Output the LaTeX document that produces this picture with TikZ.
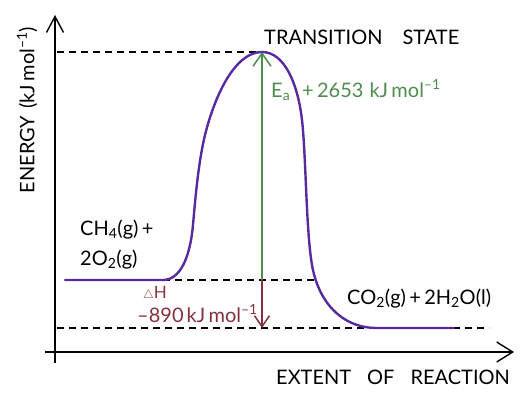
\documentclass[tikz,border=0pt]{standalone}
\usepackage{fontspec}
\setmainfont{Lato}
\usetikzlibrary{arrows.meta}
\definecolor{curvepurple}{RGB}{88,42,160}
\definecolor{eagreen}{RGB}{78,140,78}
\definecolor{dhred}{RGB}{132,50,62}
\newcommand{\lowsub}[1]{\textsubscript{#1}}
\newcommand{\upsup}[1]{\textsuperscript{#1}}
\begin{document}
\begin{tikzpicture}[x=1pt,y=-1pt,
  axis/.style={line width=1.4pt,black},
  dashline/.style={line width=1.5pt,black,dash pattern=on 7pt off 5pt},
  profile/.style={line width=2.4pt,curvepurple,line cap=round,line join=round},
  lbl/.style={inner sep=0pt,font=\fontsize{20}{24}\selectfont},
]
\useasboundingbox (0,0) rectangle (528,399);
% key coordinates
\coordinate (yb) at (55,363);
\coordinate (yt) at (55,15);
\coordinate (xl) at (45,352);
\coordinate (xr) at (514,352);
\coordinate (tsl) at (57,52);
\coordinate (ts) at (262,52);
\coordinate (rs) at (65,280);
\coordinate (re) at (163,280);
\coordinate (rd) at (316,280);
\coordinate (rm) at (262,280);
\coordinate (pl) at (57,328);
\coordinate (pr) at (489,328);
\coordinate (pm) at (262,328);
\coordinate (pe) at (454,328);
% axes
\draw[axis,-{Straight Barb[length=16pt,width=17pt,line width=1.4pt]}] (yb) -- (yt);
\draw[axis,-{Straight Barb[length=16pt,width=20pt,line width=1.4pt]}] (xl) -- (xr);
% dashed levels
\draw[dashline] (tsl) -- (ts);
\draw[dashline] (re) -- (rd);
\draw[dashline] (pl) -- (pr);
% profile
\draw[profile] (rs) -- (re)
  .. controls (180,280) and (190,258) .. (193,225)
  .. controls (196,190) and (199,160) .. (205,135)
  .. controls (215,95) and (235,52) .. (ts)
  .. controls (285,52) and (298,85) .. (302,120)
  .. controls (306,155) and (306,230) .. (312,265)
  .. controls (318,300) and (340,328) .. (377,328)
  -- (pe);
% arrows
\draw[eagreen,line width=1.5pt,-{Straight Barb[length=13pt,width=18pt,line width=1.5pt]}] (rm) -- (ts);
\draw[dhred,line width=1.5pt,-{Straight Barb[length=11pt,width=15pt,line width=1.5pt]}] (rm) -- (pm);
% labels
\node[lbl,anchor=base west] (tstxt) at (264,44) {TRANSITION\hspace{20pt}STATE};
\node[lbl,anchor=base west,text=eagreen] (eatxt) at (271,97) {E\lowsub{a}\hspace{12pt}+\,2653\hspace{6pt}kJ\,mol\upsup{–1}};
\node[lbl,anchor=center,rotate=90] (ytxt) at (27,110) {ENERGY\hspace{7pt}(kJ\,mol\upsup{–1})};
\node[lbl,anchor=base west] (r1) at (80,235) {CH\lowsub{4}(g)\,+};
\node[lbl,anchor=base west] (r2) at (80,265) {2O\lowsub{2}(g)};
\node[lbl,anchor=base west,text=dhred] (dh1) at (143,298) {\fontsize{17}{20}\selectfont$\scriptstyle\triangle$H};
\node[lbl,anchor=base west,text=dhred] (dh2) at (137,322) {–890\hspace{3pt}kJ\,mol\upsup{–1}};
\node[lbl,anchor=base west] (ptxt) at (347,304) {CO\lowsub{2}(g)\,+\,2H\lowsub{2}O(l)};
\node[lbl,anchor=base west] (xtxt) at (276,384) {EXTENT\hspace{16pt}OF\hspace{16pt}REACTION};
\end{tikzpicture}
\end{document}
